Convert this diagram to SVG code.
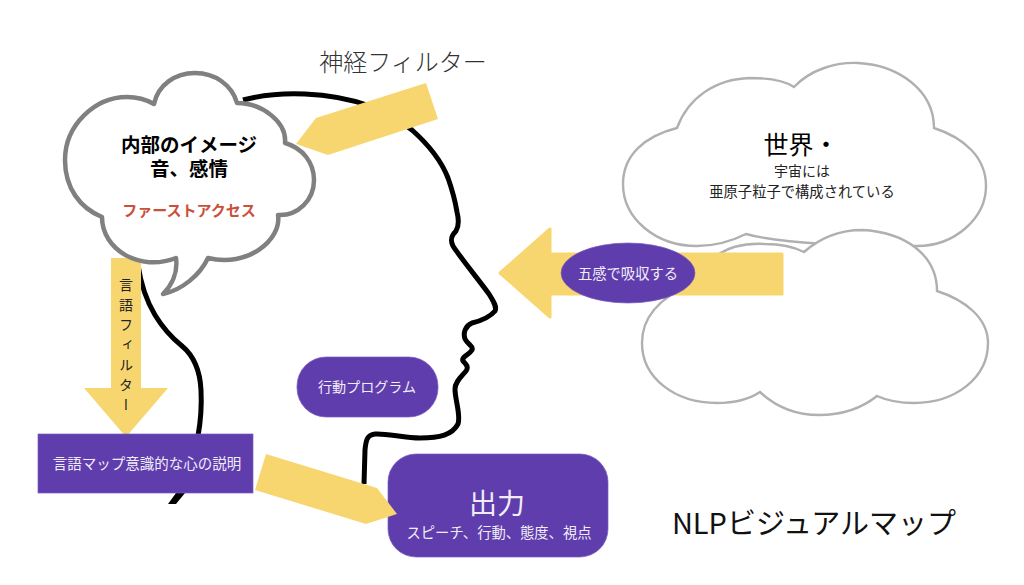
<svg xmlns="http://www.w3.org/2000/svg" width="1024" height="585" viewBox="0 0 1024 585">
<style>
text{font-family:"Noto Sans CJK JP","Noto Sans",sans-serif;text-anchor:middle;dominant-baseline:central}
.y{fill:#f8d66f}.p{fill:#5f3dac;stroke:#7a5cc0;stroke-width:.7}
.w{fill:#f1edf8}.c{fill:#fff;stroke:#b0b0b0;stroke-width:2.4}
</style>
<rect width="1024" height="585" fill="#fff"/>
<g id="head"><path d="M243 100C262 95 282 93 305 94C330 95 350 99 370 106C388 114 400 120 412 130C430 146 441 160 448 178C453 192 455 200 457 212C459 220 459 226 456 231C451 236 450 240 453 246C460 257 478 279 489 294C494 302 497 307 495 311C490 317 480 321 472 323C465 326 463 333 465 339C468 345 474 346 472 350C469 355 461 357 463 361C466 364 469 367 466 371C461 377 455 382 455 389C455 400 461 415 458 424C452 435 440 438 420 438C405 438 385 433 375 434C367 435 366 440 365 450L364 484" fill="none" stroke="#000" stroke-width="5"/>
<path d="M138 265C141 285 146 300 155 315C164 330 172 338 182 346C194 356 200 370 201 390C202 410 200 425 198 436" fill="none" stroke="#000" stroke-width="5"/>
<polygon points="176,493 185,493 176,504 168,504" fill="#000"/></g>
<g id="cloud-world">
<path class="c" d="M794 87C810 70 835 62 858 63C898 65 934 90 934 128C965 138 986 158 986 186C986 218 955 246 917 246C880 246 790 246 746 234C728 243 712 246 697 246C655 246 623 218 623 184C623 155 645 136 677 128C688 98 715 79 750 78C770 78 785 81 794 87Z"/>
<path class="c" d="M804 252C820 238 840 230 862 230C905 232 937 255 937 291C965 300 988 318 988 343C988 378 955 403 914 403C900 403 888 401 877 396C862 408 842 415 819 415C795 415 775 406 760 392C748 400 733 403 717 403C675 403 642 378 642 343C642 320 655 300 690 285C685 270 700 258 716 256C730 246 748 243 765 244C780 244 794 247 804 252Z"/>
</g>
<g id="connectors-upper">
<polygon class="y" points="426,83 438,119 328,155 296,144 316,118"/>
<polygon class="y" points="111,258 141,258 141,388 168,388 126,437 84,388 111,388"/>
<path class="y" stroke="#f8d66f" stroke-width="3" stroke-linejoin="round" d="M500 273L550 229V254H782V294H550V317Z"/>
</g>
<g id="thought">
<path d="M154 104C158 85 175 73 195 73C215 73 232 85 237 103C262 103 287 122 285 143C303 148 314 163 314 180C314 200 298 216 278 215C282 240 247 268 208 258C200 275 182 290 163 294C172 285 178 272 176 258C140 272 102 250 102 217C80 208 65 188 65 160C65 125 95 97 127 97C137 97 147 100 154 104Z" fill="#fff" stroke="#808080" stroke-width="4.5" stroke-linejoin="round"/>
<text x="189" y="143" font-size="19.5" font-weight="700" fill="#000">内部のイメージ</text>
<text x="189" y="167" font-size="19.5" font-weight="700" fill="#000">音、感情</text>
<text x="189" y="209" font-size="15" font-weight="700" fill="#c9503a">ファーストアクセス</text>
</g>
<g id="title"><text x="403" y="60" font-size="24" font-weight="300" fill="#333">神経フィルター</text></g>
<g id="world-text">
<text x="801" y="143" font-size="25" fill="#000">世界・</text>
<text x="802" y="170" font-size="14" fill="#222">宇宙には</text>
<text x="802" y="190" font-size="14.3" fill="#222">亜原子粒子で構成されている</text>
</g>
<g id="senses"><ellipse class="p" cx="628" cy="273" rx="67" ry="30"/><text class="w" x="628" y="272" font-size="14.3">五感で吸収する</text></g>
<g id="filter-label"><text x="126" y="278" font-size="14" fill="#222" style="writing-mode:vertical-rl;text-anchor:start;dominant-baseline:auto" letter-spacing="6">言語フィルター</text></g>
<g id="lang-map"><rect class="p" x="38" y="434" width="215" height="59"/><text class="w" x="147" y="462" font-size="14.5">言語マップ意識的な心の説明</text></g>
<g id="program"><rect class="p" x="297" y="357" width="141" height="60" rx="29"/><text class="w" x="367" y="386" font-size="14.1">行動プログラム</text></g>
<g id="output"><rect class="p" x="388" y="454" width="220" height="103" rx="28"/><text class="w" x="497" y="502" font-size="28">出力</text><text class="w" x="499" y="531" font-size="14.3">スピーチ、行動、態度、視点</text></g>
<g id="connector-output"><polygon class="y" points="266,454 377,488 397,514 366,524 255,490"/></g>
<g id="map-title"><text x="814" y="521" font-size="29" fill="#111">NLPビジュアルマップ</text></g>
</svg>
